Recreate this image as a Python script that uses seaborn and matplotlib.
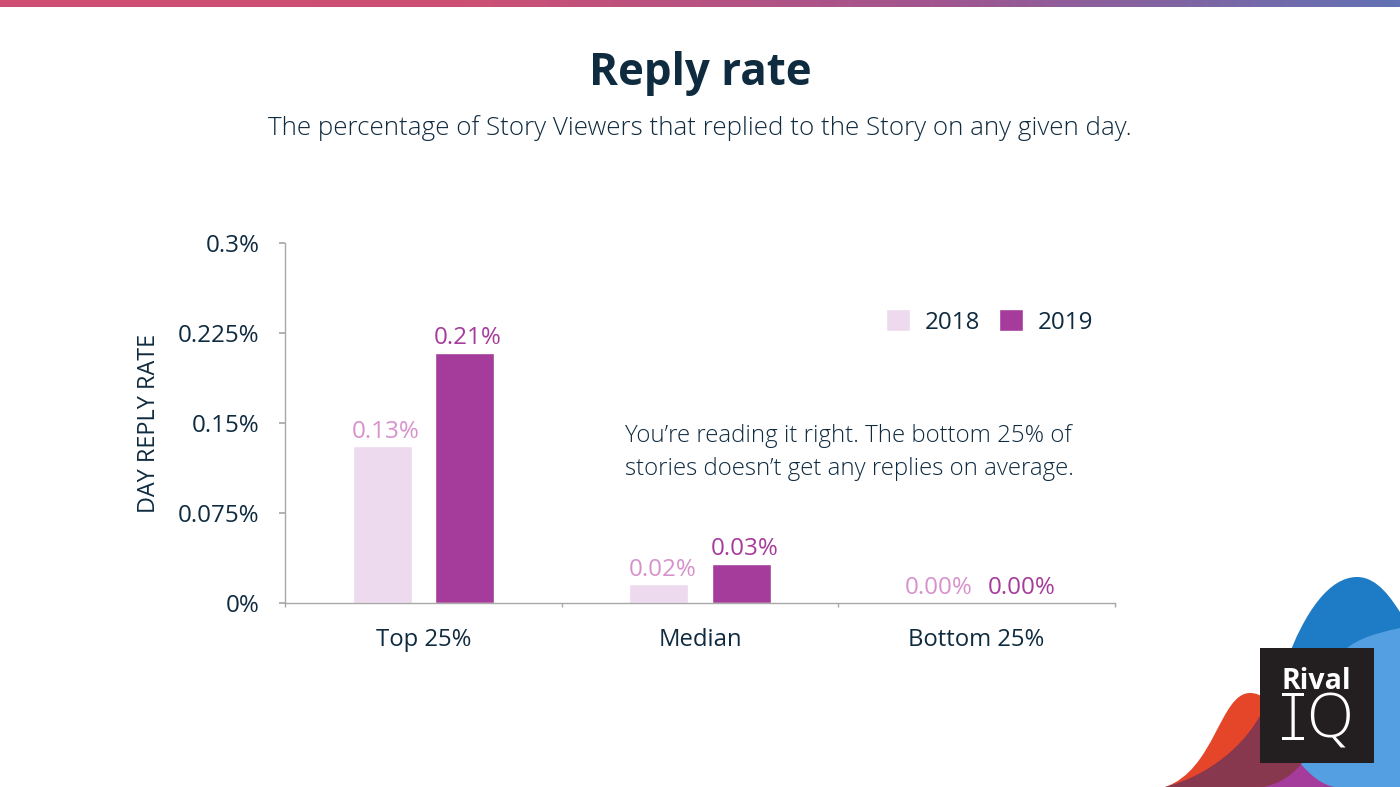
import numpy as np
import pandas as pd
import matplotlib
matplotlib.use("Agg")
import matplotlib.pyplot as plt
from matplotlib.path import Path
from matplotlib.patches import PathPatch, Rectangle
from matplotlib.colors import LinearSegmentedColormap
import seaborn as sns

categories = ["Top 25%", "Median", "Bottom 25%"]
values_2018 = [0.1305, 0.0155, 0.0]
values_2019 = [0.2085, 0.0325, 0.0]
labels_2018 = ["0.13%", "0.02%", "0.00%"]
labels_2019 = ["0.21%", "0.03%", "0.00%"]
ticks = [0, 0.075, 0.15, 0.225, 0.3]
tick_labels = ["0%", "0.075%", "0.15%", "0.225%", "0.3%"]

NAVY = "#0f2b40"
C18, C19 = "#eddaee", "#a53b9b"
L18, L19 = "#d792cc", "#a53b9b"

sns.set_theme(style="white")
plt.rcParams["font.family"] = ["Open Sans", "DejaVu Sans"]

W, H = 1400, 787
fig = plt.figure(figsize=(W / 100, H / 100), dpi=100, facecolor="white")

# overlay in pixel coordinates for page decoration
bg = fig.add_axes([0, 0, 1, 1], zorder=0)
bg.set_xlim(0, W); bg.set_ylim(H, 0); bg.axis("off")
cmap = LinearSegmentedColormap.from_list("top", ["#cf4f73", "#cc5074", "#a2558f", "#6272b4"])
bg.imshow(np.linspace(0, 1, 256)[None, :], extent=(0, W, 7, 0), cmap=cmap, aspect="auto")
bg.set_xlim(0, W); bg.set_ylim(H, 0)

def shape(start, curves, color, z):
    v, c = [start], [Path.MOVETO]
    for seg in curves:
        if len(seg) == 1:
            v += seg; c += [Path.LINETO]
        else:
            v += seg; c += [Path.CURVE4] * 3
    v.append(start); c.append(Path.CLOSEPOLY)
    bg.add_patch(PathPatch(Path(v, c), fc=color, ec="none", zorder=z))

shape((1285, 700), [[(1285, 665)],
                    [(1305, 610), (1330, 577), (1357, 577)],
                    [(1378, 577), (1392, 600), (1400, 612)],
                    [(1400, 700)]], "#1e7cc6", 2)
shape((1250, 787), [[(1300, 755)], [(1345, 787)]], "#a53b9b", 3)
shape((1300, 763), [[(1320, 650), (1345, 640), (1400, 628)],
                    [(1400, 787)], [(1335, 787)],
                    [(1322, 785), (1310, 775), (1300, 763)]], "#549fe2", 4)
shape((1165, 787), [[(1215, 770), (1220, 693), (1250, 693)],
                    [(1275, 693), (1280, 730), (1300, 763)],
                    [(1263, 787)]], "#e5462a", 5)
shape((1165, 787), [[(1210, 775), (1245, 745), (1262, 712)],
                    [(1275, 735), (1290, 750), (1302, 763)],
                    [(1290, 778), (1275, 785), (1263, 787)]], "#87374e", 6)
bg.add_patch(Rectangle((1260, 648), 114, 115, fc="#231f20", ec="none", zorder=7))
bg.text(1316.5, 689, "Rival", color="white", fontsize=20.5, fontweight="bold",
        family="Open Sans", ha="center", va="baseline", zorder=8)
bg.text(1293, 739, "I", color="white", fontsize=46, fontweight="light",
        family="Open Sans", ha="center", va="baseline", zorder=8)
bg.add_patch(Rectangle((1282, 693), 22, 2.5, fc="white", ec="none", zorder=8))
bg.add_patch(Rectangle((1282, 737), 22, 2.5, fc="white", ec="none", zorder=8))
bg.text(1330, 738, "Q", color="white", fontsize=44, fontweight="light",
        family="Open Sans", ha="center", va="baseline", zorder=8)

fig.text(0.5, 1 - 74 / H, "Reply rate", ha="center", va="center", color=NAVY,
         fontsize=31.6, fontweight="bold")
fig.text(0.5, 1 - 128 / H, "The percentage of Story Viewers that replied to the Story on any given day.",
         ha="center", va="center", color=NAVY, fontsize=18.7, fontweight="light")

# chart
L, R, T, B = 285, 1115, 243, 603
ax = fig.add_axes([L / W, 1 - B / H, (R - L) / W, (B - T) / H], zorder=2)
ax.patch.set_alpha(0)
df = pd.DataFrame({
    "cat": categories * 2,
    "year": ["2018"] * 3 + ["2019"] * 3,
    "val": values_2018 + values_2019,
})
sns.barplot(data=df, x="cat", y="val", hue="year", palette=[C18, C19], width=0.596,
            gap=0.285, dodge=True, saturation=1, ax=ax, legend=False)
ax.set_xlim(-0.5, 2.5)
ax.set_ylim(0, 0.3)
ax.set_yticks(ticks, tick_labels)
ax.set_xticks([0, 1, 2], categories)
ax.set_xticks([-0.5, 0.5, 1.5, 2.5], minor=True)
for c, labs, col in zip(ax.containers, [labels_2018, labels_2019], [L18, L19]):
    for t in ax.bar_label(c, labels=labs, color=col, fontsize=17.4, padding=2):
        t.xyann = (2.5, t.xyann[1])
for s in ["top", "right"]:
    ax.spines[s].set_visible(False)
for s in ["left", "bottom"]:
    ax.spines[s].set_color("#a8a8a8")
    ax.spines[s].set_linewidth(1)
ax.tick_params(axis="y", left=True, length=4, color="#a8a8a8", labelsize=17.4, labelcolor=NAVY, pad=14.5)
ax.tick_params(axis="x", which="major", bottom=False, labelsize=17.2, labelcolor=NAVY, pad=12)
ax.tick_params(axis="x", which="minor", bottom=True, length=3, color="#a8a8a8")
ax.set_xlabel("")
ax.set_ylabel("")
fig.text(149 / W, 1 - 423 / H, "DAY REPLY RATE", rotation=90, ha="center", va="center",
         color=NAVY, fontsize=16.8)

ax.text((625 - L) / (R - L), (B - 436) / (B - T), "You\u2019re reading it right. The bottom 25% of",
        transform=ax.transAxes, color=NAVY, fontsize=17.3, fontweight="light", va="center")
ax.text((625 - L) / (R - L), (B - 469) / (B - T), "stories doesn\u2019t get any replies on average.",
        transform=ax.transAxes, color=NAVY, fontsize=17.3, fontweight="light", va="center")

# legend
handles = [Rectangle((0, 0), 1, 1, fc=C18), Rectangle((0, 0), 1, 1, fc=C19)]
ax.legend(handles, ["2018", "2019"], ncol=2, frameon=False, fontsize=17.4, labelcolor=NAVY,
          loc="center left", bbox_to_anchor=((886 - L) / (R - L), (B - 322) / (B - T)),
          borderaxespad=0, borderpad=0, handlelength=1.0, handleheight=1.0,
          handletextpad=0.62, columnspacing=0.75)

fig.savefig("out.png", dpi=100, facecolor="white")
